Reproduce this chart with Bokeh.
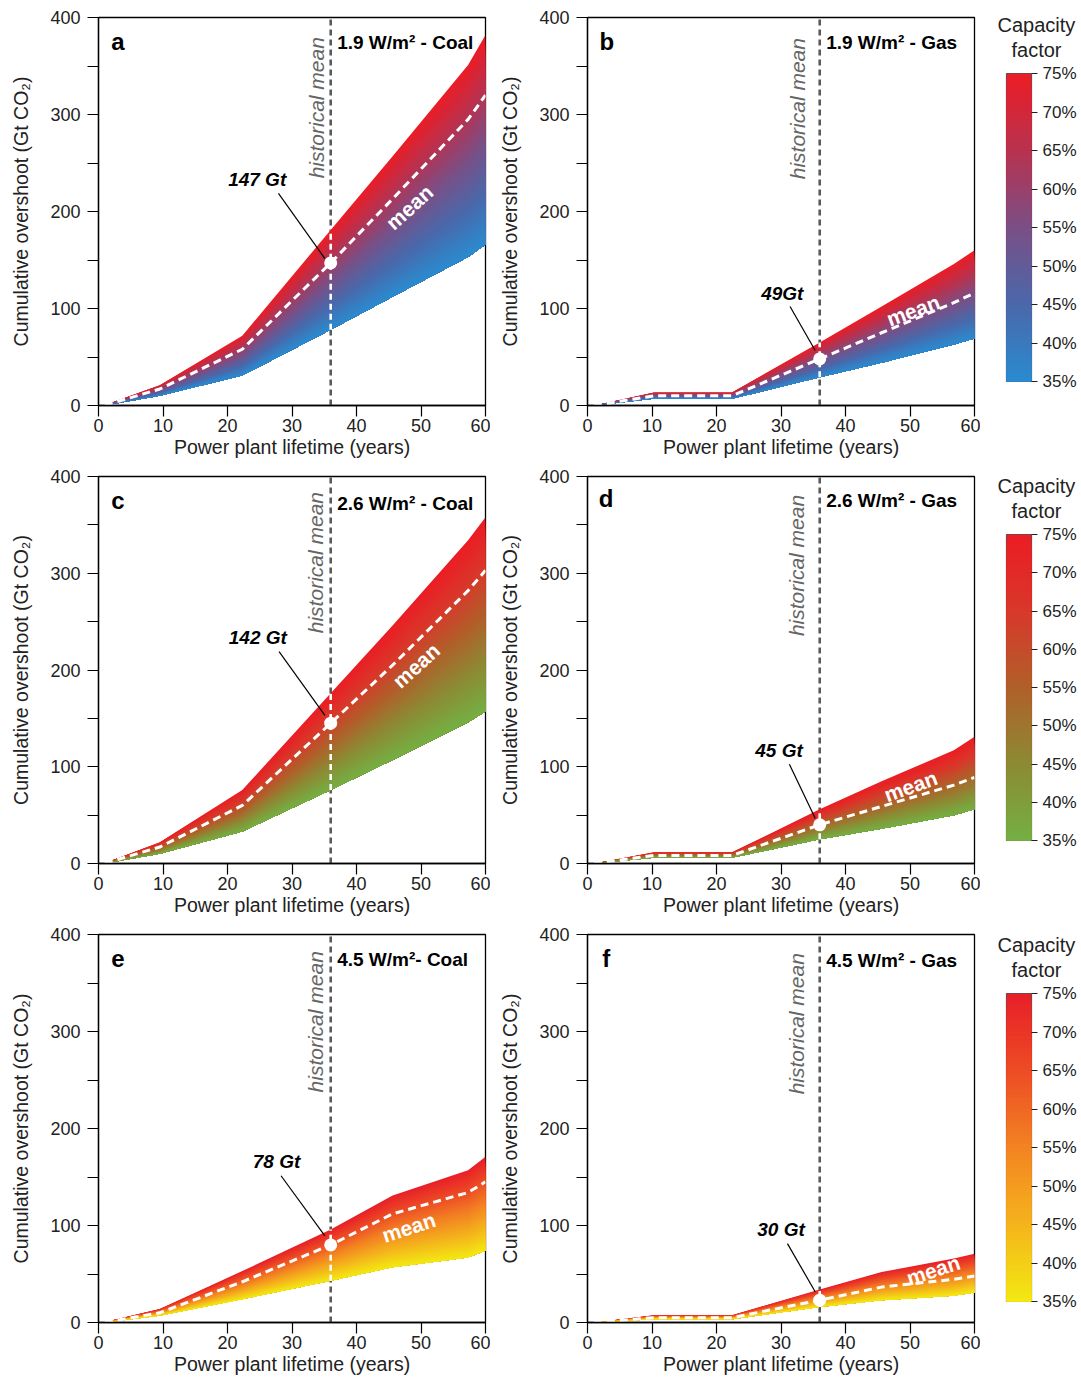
import numpy as np
from bokeh.plotting import figure
from bokeh.layouts import row, column
from bokeh.models import Range1d, FixedTicker, Title
from bokeh.core.properties import value
from bokeh.embed import file_html
from bokeh.resources import INLINE

FONT = "Liberation Sans"

# ---------------- data ----------------
x_coal = [1, 9.5, 22.3, 36, 45.6, 57.3, 60]
x_gas = [1, 10.3, 22.4, 36, 45.6, 56.8, 60]

a_upper = [0.5, 21, 72, 181, 257, 351, 382]
a_lower = [0, 10, 31, 78, 112, 153, 166]
a_mean = [0.3, 17, 58, 147, 213, 295, 320]

b_upper = [0, 13.5, 13.5, 65, 102, 146, 160]
b_lower = [0, 7, 7, 29, 44, 63, 69]
b_mean = [0, 10, 10, 48, 75, 106, 116]

c_upper = [0.5, 22, 76, 176, 246, 334, 358]
c_lower = [0, 10, 33, 76, 107, 146, 157]
c_mean = [0.3, 17, 60, 145, 205, 282, 303]

d_upper = [0, 11.5, 11.5, 56, 85, 117, 131]
d_lower = [0, 6, 6, 25, 36, 50, 56]
d_mean = [0, 8.3, 8.3, 40, 59, 81, 89]

e_upper = [0.5, 14, 53, 96, 131, 157, 171]
e_lower = [0, 7, 24, 43, 57, 67, 74]
e_mean = [0.3, 10, 42, 80, 112, 134, 145]

f_upper = [0, 7.5, 7.5, 34, 52, 66, 71]
f_lower = [0, 3.4, 3.4, 16, 23, 27.5, 31]
f_mean = [0, 5, 5, 23, 36.5, 44.5, 48]

hist_mean_year = 36
x_ticks = [0, 10, 20, 30, 40, 50, 60]
y_ticks = [0, 100, 200, 300, 400]
y_minor = [50, 150, 250, 350]
cf_ticks = [35, 40, 45, 50, 55, 60, 65, 70, 75]
cf_labels = ["35%", "40%", "45%", "50%", "55%", "60%", "65%", "70%", "75%"]
cf_min, cf_max = 35, 75

stops_blue = ["#2a8bd0", "#4a68aa", "#7a4f86", "#b8324f", "#ec1c25"]
stops_green = ["#74b043", "#8c8a34", "#b0602a", "#d8382a", "#ec1c24"]
stops_yellow = ["#f3e912", "#f4b41c", "#f38322", "#ec4c25", "#e81f28"]


def hex2rgb(h):
    h = h.lstrip("#")
    return [int(h[i:i + 2], 16) for i in (0, 2, 4)]


def cf_color(stops, cf):
    t = (cf - cf_min) / float(cf_max - cf_min)
    t = min(max(t, 0), 1)
    pos = t * (len(stops) - 1)
    i = min(int(pos), len(stops) - 2)
    f = pos - i
    c0, c1 = hex2rgb(stops[i]), hex2rgb(stops[i + 1])
    c = [round(c0[k] + (c1[k] - c0[k]) * f) for k in range(3)]
    return "#%02x%02x%02x" % tuple(c)


def style_axes(p):
    for ax in (p.xaxis[0], p.yaxis[0]):
        ax.axis_line_color = "black"
        ax.axis_line_width = 1.3
        ax.major_tick_line_color = "black"
        ax.major_tick_line_width = 1.2
        ax.minor_tick_line_color = "black"
        ax.minor_tick_line_width = 1.2
        ax.major_tick_out = 11
        ax.major_tick_in = 0
        ax.minor_tick_out = 11
        ax.minor_tick_in = 0
        ax.major_label_text_font = FONT
        ax.major_label_text_font_size = "18px"
        ax.major_label_text_color = "#222222"
        ax.axis_label_text_font = FONT
        ax.axis_label_text_font_size = "19.5px"
        ax.axis_label_text_font_style = "normal"
        ax.axis_label_text_color = "#222222"
    p.xaxis.major_label_standoff = 2
    p.xaxis.axis_label_standoff = 1
    p.yaxis.major_label_standoff = 7
    p.yaxis.axis_label_standoff = 15


def panel(cfg, width, height, left, right, top, bottom):
    p = figure(width=width, height=height, x_range=Range1d(0, 60), y_range=Range1d(0, 400),
               output_backend="svg", toolbar_location=None,
               min_border_left=left, min_border_right=right,
               min_border_top=top, min_border_bottom=bottom,
               x_axis_label="Power plant lifetime (years)",
               y_axis_label="Cumulative overshoot (Gt CO₂)")
    p.xaxis.ticker = FixedTicker(ticks=x_ticks)
    p.yaxis.ticker = FixedTicker(ticks=y_ticks, minor_ticks=y_minor)
    p.xgrid.visible = False
    p.ygrid.visible = False
    p.outline_line_color = "black"
    p.outline_line_width = 1.3
    p.outline_line_alpha = 1.0
    style_axes(p)

    xs = np.array(cfg["x"], dtype=float)
    up = np.array(cfg["upper"], dtype=float)
    lo = np.array(cfg["lower"], dtype=float)
    mn = np.array(cfg["mean"], dtype=float)
    k = list(cfg["x"]).index(hist_mean_year)

    # historical mean vertical line (under the fan)
    p.segment(x0=[hist_mean_year], y0=[0], x1=[hist_mean_year], y1=[400],
              line_color="#5a5a5a", line_width=2.6, line_dash="6 4")

    # gradient fan: overlapping strips (no seams)
    N = 48
    for i in reversed(range(N)):
        top_v = lo + (up - lo) * (i + 1) / N
        cf = cf_min + (cf_max - cf_min) * (i + 0.5) / N
        p.varea(x=xs, y1=lo, y2=top_v, fill_color=cf_color(cfg["stops"], cf), fill_alpha=1.0)

    # white dashed part of vertical line inside the fan
    p.segment(x0=[hist_mean_year], y0=[lo[k]], x1=[hist_mean_year], y1=[up[k]],
              line_color="white", line_width=2.6, line_dash="6 4")
    # mean line
    p.line(xs, mn, line_color="white", line_width=3, line_dash="8 5")
    # pointer
    (px0, py0), (px1, py1) = cfg["pointer"]
    p.segment(x0=[px0], y0=[py0], x1=[px1], y1=[py1], line_color="black", line_width=1.2)
    # dot
    p.scatter([hist_mean_year], [mn[k]], size=13, fill_color="white", line_color=None)

    # texts
    lx, ly = cfg["letter_pos"]
    p.text(x=[lx], y=[ly], text=[cfg["letter"]], text_font=value(FONT), text_font_size="24px",
           text_font_style="bold", text_align="center", text_baseline="middle", text_color="black")
    sx, sy = cfg["scen_pos"]
    p.text(x=[sx], y=[sy], text=[cfg["scenario"]], text_font=value(FONT), text_font_size="19px",
           text_font_style="bold", text_align="left", text_baseline="middle", text_color="black")
    hx, hy = cfg["hist_pos"]
    p.text(x=[hx], y=[hy], text=["historical mean"], text_font=value(FONT), text_font_size="21px",
           text_font_style="italic", text_align="center", text_baseline="middle",
           text_color="#666666", angle=np.pi / 2)
    ax_, ay_ = cfg["label_pos"]
    p.text(x=[ax_], y=[ay_], text=[cfg["label"]], text_font=value(FONT), text_font_size="19px",
           text_font_style="bold italic", text_align="center", text_baseline="middle",
           text_color="black")
    mx, my, mang = cfg["mean_pos"]
    p.text(x=[mx], y=[my], text=["mean"], text_font=value(FONT), text_font_size="21px",
           text_font_style="bold", text_align="center", text_baseline="middle",
           text_color="white", angle=np.deg2rad(mang))
    return p


def colorbar(stops, height, top, bottom):
    p = figure(width=101, height=height, x_range=Range1d(0, 1), y_range=Range1d(cf_min, cf_max),
               output_backend="svg", toolbar_location=None,
               x_axis_location=None, y_axis_location="right",
               min_border_left=26, min_border_right=50,
               min_border_top=top, min_border_bottom=bottom)
    p.xgrid.visible = False
    p.ygrid.visible = False
    p.outline_line_color = "#555555"
    p.outline_line_width = 1.2
    M = 80
    for i in reversed(range(M)):
        cf_top = cf_min + (cf_max - cf_min) * (i + 1) / M
        cf = cf_min + (cf_max - cf_min) * (i + 0.5) / M
        p.quad(left=[0], right=[1], bottom=[cf_min], top=[cf_top],
               fill_color=cf_color(stops, cf), line_color=None)
    ax = p.yaxis[0]
    ax.ticker = FixedTicker(ticks=cf_ticks)
    ax.major_label_overrides = {t: l for t, l in zip(cf_ticks, cf_labels)}
    ax.axis_line_color = None
    ax.major_tick_out = 6
    ax.major_tick_in = 0
    ax.major_tick_line_color = "#222222"
    ax.major_tick_line_width = 1.2
    ax.minor_tick_line_color = None
    ax.major_label_standoff = 5
    ax.major_label_text_font = FONT
    ax.major_label_text_font_size = "17px"
    ax.major_label_text_color = "#222222"
    # spacer, then the two title lines (first added sits closest to the bar)
    p.add_layout(Title(text=" ", text_font_size="1px", standoff=9), "above")
    p.add_layout(Title(text="factor", align="left", offset=5, standoff=2,
                       text_font=FONT, text_font_size="20px", text_font_style="normal",
                       text_color="#222222"), "above")
    p.add_layout(Title(text="Capacity", align="left", offset=-9, standoff=0,
                       text_font=FONT, text_font_size="20px", text_font_style="normal",
                       text_color="#222222"), "above")
    return p


panels = {
    "a": dict(x=x_coal, upper=a_upper, lower=a_lower, mean=a_mean, stops=stops_blue,
              letter="a", letter_pos=(3.0, 375), scenario="1.9 W/m² - Coal", scen_pos=(37.0, 374),
              hist_pos=(33.8, 307), label="147 Gt", label_pos=(24.6, 233),
              pointer=((27.9, 218.6), (35.1, 151.5)), mean_pos=(48.2, 204.4, 42)),
    "b": dict(x=x_gas, upper=b_upper, lower=b_lower, mean=b_mean, stops=stops_blue,
              letter="b", letter_pos=(3.0, 375), scenario="1.9 W/m² - Gas", scen_pos=(37.0, 374),
              hist_pos=(32.5, 306), label="49Gt", label_pos=(30.2, 115.5),
              pointer=((31.4, 102), (35.3, 56.7)), mean_pos=(50.5, 98, 20)),
    "c": dict(x=x_coal, upper=c_upper, lower=c_lower, mean=c_mean, stops=stops_green,
              letter="c", letter_pos=(3.0, 375), scenario="2.6 W/m² - Coal", scen_pos=(37.0, 372),
              hist_pos=(33.7, 311), label="142 Gt", label_pos=(24.7, 233.5),
              pointer=((28.0, 219), (35.1, 153)), mean_pos=(49.25, 204.6, 42)),
    "d": dict(x=x_gas, upper=d_upper, lower=d_lower, mean=d_mean, stops=stops_green,
              letter="d", letter_pos=(2.9, 377), scenario="2.6 W/m² - Gas", scen_pos=(37.0, 375),
              hist_pos=(32.4, 308), label="45 Gt", label_pos=(29.7, 117),
              pointer=((31.3, 102.6), (35.3, 46.8)), mean_pos=(50.1, 80, 20)),
    "e": dict(x=x_coal, upper=e_upper, lower=e_lower, mean=e_mean, stops=stops_yellow,
              letter="e", letter_pos=(3.0, 375), scenario="4.5 W/m²- Coal", scen_pos=(37.0, 374.7),
              hist_pos=(33.7, 310), label="78 Gt", label_pos=(27.6, 166),
              pointer=((28.3, 151.3), (35.1, 89.4)), mean_pos=(48.1, 98, 18)),
    "f": dict(x=x_gas, upper=f_upper, lower=f_lower, mean=f_mean, stops=stops_yellow,
              letter="f", letter_pos=(2.9, 375.7), scenario="4.5 W/m² - Gas", scen_pos=(37.0, 373.7),
              hist_pos=(32.4, 308), label="30 Gt", label_pos=(30.0, 95.8),
              pointer=((31.0, 81.3), (35.3, 31.7)), mean_pos=(53.6, 54, 18)),
}

# (left, right, stops, fig height, top border, bottom border, bar top, bar bottom)
rows_cfg = [("a", "b", stops_blue, 460, 17, 55, 73, 79),
            ("c", "d", stops_green, 458, 16, 55, 74, 78),
            ("e", "f", stops_yellow, 462, 16, 58, 75, 79)]

left_col, right_col, cb_col = [], [], []
for lk, rk, stops, h, tb, bb, ctop, cbot in rows_cfg:
    left_col.append(panel(panels[lk], 490, h, 98, 5, tb, bb))
    right_col.append(panel(panels[rk], 490, h, 97, 6, tb, bb))
    cb_col.append(colorbar(stops, h, ctop, cbot))

layout = row(column(*left_col), column(*right_col), column(*cb_col))
open("out.html", "w").write(file_html(layout, INLINE))
